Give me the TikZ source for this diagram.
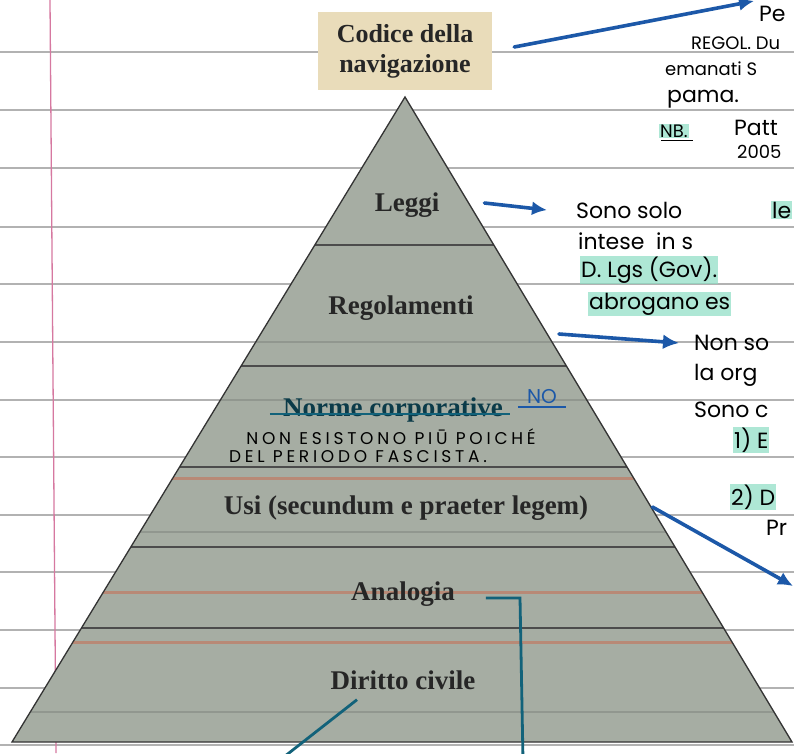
\documentclass[tikz,border=0pt]{standalone}
\usepackage{fontspec}
\setmainfont{Liberation Serif}
\newfontfamily\hand{Poppins}
\newfontfamily\handcaps[LetterSpace=22]{Poppins}

\usetikzlibrary{calc, arrows.meta, positioning}

\definecolor{stone}{RGB}{166,173,163}
\definecolor{paper}{RGB}{233,220,186}
\definecolor{penblue}{RGB}{28,88,168}
\definecolor{inkteal}{RGB}{18,98,122}
\definecolor{marker}{RGB}{140,222,196}
\definecolor{margin}{RGB}{214,120,160}

\begin{document}
\begin{tikzpicture}[x=1pt, y=-1pt,
    tier/.style={font=\bfseries\fontsize{27}{30}\selectfont, text=black!85, inner sep=1pt},
    note/.style={font=\hand\fontsize{22}{24}\selectfont, anchor=west, inner sep=1pt},
    small/.style={font=\hand\fontsize{18}{20}\selectfont, anchor=west, inner sep=1pt},
    hl/.style={fill=marker, fill opacity=0.7, text opacity=1},
    pen/.style={draw=penblue, line width=3.6pt, line cap=round},
    band/.style={draw=black!70, line width=1.4pt}]
    \useasboundingbox (0,0) rectangle (794,753);
    \clip (0,0) rectangle (794,753);
    \fill[white] (0,0) rectangle (794,753);

    % notebook page
    \foreach \y in {52,110,168,227,284,342,400,457,515,572,630,688,745} {
        \draw[gray!60, line width=1.4pt] (0,\y) -- (794,\y);
    }
    \draw[margin, line width=1.3pt] (50,0) -- (56,753);

    % pyramid
    \coordinate (apex) at (405,97);
    \coordinate (bl) at (12,742);
    \coordinate (br) at (792,742);
    \fill[stone] (apex) -- (bl) -- (br) -- cycle;
    \begin{scope}
        \clip (apex) -- (bl) -- (br) -- cycle;
        \foreach \y in {478,592,642} {
            \draw[red!45!brown, opacity=.35, line width=3pt] (0,\y) -- (794,\y);
        }
        \foreach \y in {342,400,532,712} {
            \draw[black, opacity=.12, line width=1.5pt] (0,\y) -- (794,\y);
        }
    \end{scope}
    \foreach \y in {245,366,467,547,628} {
        \pgfmathsetmacro{\t}{(\y-97)/645}
        \draw[band] ($(apex)!\t!(bl)$) -- ($(apex)!\t!(br)$);
    }
    \draw[black!80, line width=1.3pt] (apex) -- (bl) -- (br) -- cycle;

    % tiers
    \node[tier, fill=paper, align=center, minimum width=174pt, minimum height=78pt,
        font=\bfseries\fontsize{26}{30}\selectfont] (codice) at (405,51) {Codice della\\navigazione};
    \node[tier] (leggi) at (407,205) {Leggi};
    \node[tier] (regol) at (401,308) {Regolamenti};
    \node[tier, text=inkteal!60!black] (norme) at (393,410) {Norme corporative};
    \node[tier] (usi) at (406,508) {Usi (secundum e praeter legem)};
    \node[tier] (analogia) at (403,594) {Analogia};
    \node[tier] (diritto) at (403,680) {Diritto civile};

    % crossed out
    \draw[inkteal, line width=1.8pt] ($(norme.west)+(-12,4)$) -- ($(norme.east)+(6,4)$);
    \node[font=\hand\fontsize{20}{20}\selectfont, text=penblue, inner sep=1pt] (no) at (542,397) {NO};
    \draw[penblue, line width=1.8pt] ($(no.south west)+(-8,2)$) -- ($(no.south east)+(8,2)$);
    \node[font=\handcaps\fontsize{17}{18}\selectfont, inner sep=1pt] (nopiu) at (391,437) {NON ESISTONO PIŪ POICHÉ};
    \node[font=\handcaps\fontsize{17}{18}\selectfont, inner sep=1pt] (fascista) at (358,457) {DEL PERIODO FASCISTA.};

    % notes on the right
    \node[note] (pe) at (758,14) {Pe};
    \node[small] (regnote) at (690,43) {REGOL. Du};
    \node[small] (emanati) at (664,69) {emanati S};
    \node[note] (pama) at (666,99) {pama.};
    \node[small, hl] (nb) at (659,131) {NB.};
    \draw[black, line width=1.4pt] ($(nb.south west)+(2,2)$) -- ($(nb.south east)+(4,2)$);
    \node[note] (patt) at (733,128) {Patt};
    \node[small] (anno) at (736,152) {2005};
    \node[note] (sono) at (575,210) {Sono solo};
    \node[note, hl] (le) at (771,210) {le};
    \node[note] (intese) at (577,241) {intese\ \ in s};
    \node[note, hl] (dlgs) at (580,270) {D. Lgs (Gov).};
    \node[note, hl] (abrog) at (588,304) {abrogano es};
    \node[note] (nonso) at (693,343) {Non so};
    \node[note] (laorg) at (693,375) {la org};
    \node[note] (sonoc) at (693,410) {Sono c};
    \node[note, hl] (uno) at (733,440) {1) E};
    \node[note, hl] (due) at (730,497) {2) D};
    \node[note] (pr) at (765,528) {Pr};

    % pen arrows
    \coordinate (topend) at (754,1);
    \coordinate (usiend) at (793,586);
    \coordinate (anacorner) at (520,598);
    \coordinate (anaend) at (523,760);
    \coordinate (dirend) at (280,760);
    \draw[pen, -{Latex[length=15pt,width=14pt]}] ($(codice.east)+(22,-4)$) -- (topend);
    \draw[pen, -{Latex[length=15pt,width=14pt]}] ($(leggi.east)+(44,-2)$) -- ([xshift=-28pt]sono.west);
    \draw[pen, -{Latex[length=16pt,width=15pt]}] ($(regol.east)+(84,26)$) -- ([xshift=-14pt]nonso.west);
    \draw[pen, -{Latex[length=15pt,width=14pt]}] ($(usi.east)+(63,-1)$) -- (usiend);
    \draw[inkteal, line width=2.8pt] ($(analogia.east)+(30,4)$) -- (anacorner) -- (anaend);
    \draw[inkteal, line width=2.8pt] ($(diritto.south)+(-46,9)$) -- (dirend);
\end{tikzpicture}
\end{document}
